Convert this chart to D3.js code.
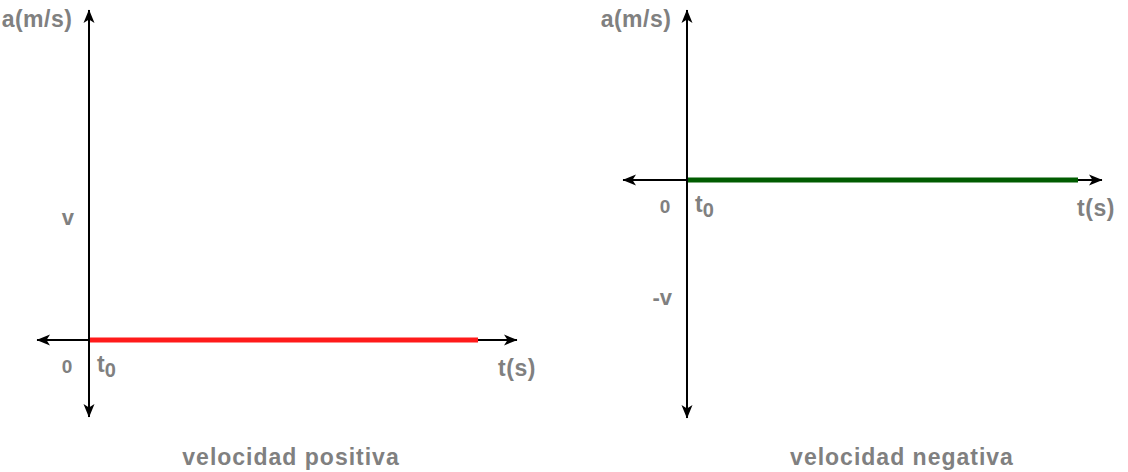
<!DOCTYPE html>
<html>
<head>
<meta charset="utf-8">
<script src="https://cdn.jsdelivr.net/npm/d3@7"></script>
<style>
  html, body { margin: 0; padding: 0; background: #fff; }
  svg { display: block; }
  text { font-family: "Liberation Sans", Arial, sans-serif; font-weight: bold; fill: #808080; }
</style>
</head>
<body>
<svg id="chart" width="1128" height="472"></svg>
<script>
// ---- data ----
const panelTitles = ["velocidad positiva", "velocidad negativa"];
const yAxisLabel = "a(m/s)";
const xAxisLabel = "t(s)";
const originLabel = "0";
const t0Label = "t";
const t0Sub = "0";
const seriesTime = [0, 10];
const seriesPositive = [0, 0];
const seriesNegative = [0, 0];
const tickLabelsPositive = ["v"];
const tickValuesPositive = [1];
const tickLabelsNegative = ["-v"];
const tickValuesNegative = [-1];
const seriesColors = ["#ff1a1a", "#005c00"];

// ---- layout ----
const panels = [
  { xDomain: [-1.34, 11.03], xRange: [37, 517], yDomain: [2.683, -0.626], yRange: [10, 417],
    time: seriesTime, values: seriesPositive, ticks: tickValuesPositive, tickLabels: tickLabelsPositive,
    color: seriesColors[0], title: panelTitles[0], titleX: 291, yLabelX: 37, tLabelDx: 0, tLabelDy: 36 },
  { xDomain: [-1.641, 10.641], xRange: [623, 1102], yDomain: [1.453, -2.034], yRange: [10, 418],
    time: seriesTime, values: seriesNegative, ticks: tickValuesNegative, tickLabels: tickLabelsNegative,
    color: seriesColors[1], title: panelTitles[1], titleX: 902, yLabelX: 636, tLabelDx: -6, tLabelDy: 36 }
];

const svg = d3.select("#chart");
const defs = svg.append("defs");
defs.append("marker")
  .attr("id", "arrow")
  .attr("viewBox", "0 0 14 12")
  .attr("refX", 13).attr("refY", 6)
  .attr("markerWidth", 14).attr("markerHeight", 12)
  .attr("markerUnits", "userSpaceOnUse")
  .attr("orient", "auto-start-reverse")
  .append("path")
  .attr("d", "M0,0.5 L13.5,6 L0,11.5 L3.5,6 Z")
  .attr("fill", "#000");

panels.forEach(p => {
  const x = d3.scaleLinear().domain(p.xDomain).range(p.xRange);
  const y = d3.scaleLinear().domain(p.yDomain).range(p.yRange);
  const g = svg.append("g");

  // x axis (arrow both ends)
  g.append("line")
    .attr("x1", x(p.xDomain[0])).attr("x2", x(p.xDomain[1]))
    .attr("y1", y(0)).attr("y2", y(0))
    .attr("stroke", "#000").attr("stroke-width", 2)
    .attr("marker-start", "url(#arrow)").attr("marker-end", "url(#arrow)");
  // y axis
  g.append("line")
    .attr("x1", x(0)).attr("x2", x(0))
    .attr("y1", y(p.yDomain[1])).attr("y2", y(p.yDomain[0]))
    .attr("stroke", "#000").attr("stroke-width", 2)
    .attr("marker-start", "url(#arrow)").attr("marker-end", "url(#arrow)");

  // series line
  const pts = p.time.map((t, i) => [t, p.values[i]]);
  g.append("path")
    .datum(pts)
    .attr("d", d3.line().x(d => x(d[0]) + 1).y(d => y(d[1])))
    .attr("stroke", p.color).attr("stroke-width", 5).attr("fill", "none");

  // y tick labels
  g.selectAll(".tick").data(p.ticks).enter().append("text")
    .attr("x", x(0) - 15).attr("y", d => y(d))
    .attr("dy", "0.35em").attr("text-anchor", "end")
    .attr("font-size", 22)
    .text((d, i) => p.tickLabels[i]);

  // origin labels
  g.append("text").attr("x", x(0) - 22).attr("y", y(0) + 33)
    .attr("text-anchor", "middle").attr("font-size", 19).text(originLabel);
  const t0 = g.append("text").attr("x", x(0) + 8).attr("y", y(0) + 32).attr("font-size", 23);
  t0.append("tspan").text(t0Label);
  t0.append("tspan").attr("dy", 5).attr("font-size", 20).text(t0Sub);

  // axis titles
  g.append("text").attr("x", p.yLabelX).attr("y", 27)
    .attr("text-anchor", "middle").attr("font-size", 23).attr("letter-spacing", 0.5).text(yAxisLabel);
  g.append("text").attr("x", x(p.xDomain[1]) + p.tLabelDx).attr("y", y(0) + p.tLabelDy)
    .attr("text-anchor", "middle").attr("font-size", 23).attr("letter-spacing", 0.5).text(xAxisLabel);

  // panel title
  g.append("text").attr("x", p.titleX).attr("y", 465)
    .attr("text-anchor", "middle").attr("font-size", 23).attr("letter-spacing", 1).text(p.title);
});
</script>
</body>
</html>
